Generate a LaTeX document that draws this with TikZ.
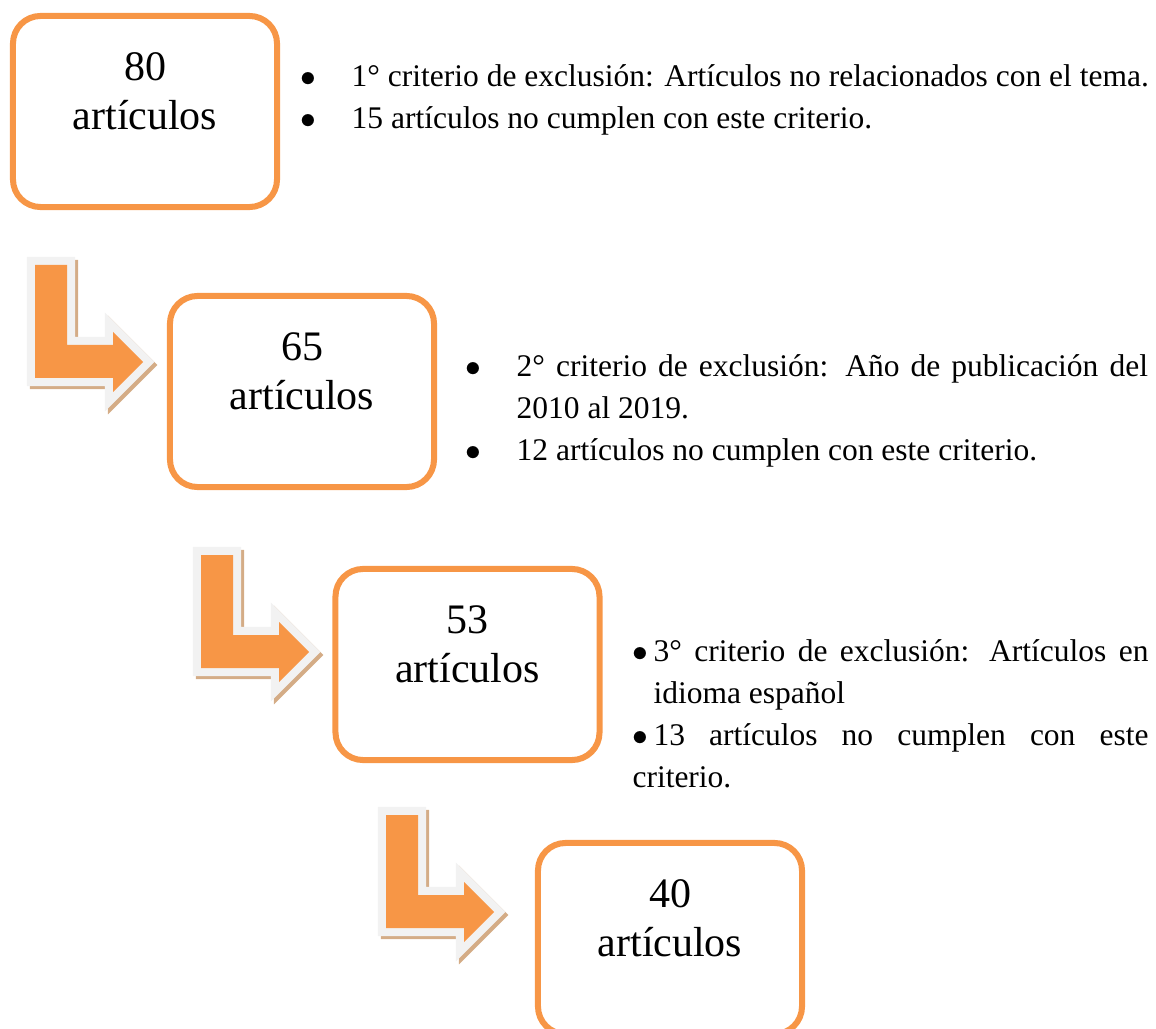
\documentclass[tikz,border=0pt]{standalone}
\usepackage{fontspec}
\setmainfont{Liberation Serif}
\usetikzlibrary{calc}
\definecolor{boxorange}{RGB}{247,150,70}
\definecolor{arrowrim}{RGB}{242,242,242}
\definecolor{arrowshade}{RGB}{212,172,134}
\tolerance=9999
\hyphenpenalty=10000
\tikzset{
    my-box/.style={
        draw=boxorange, line width=2.3pt, rounded corners=10.5pt,
        minimum width=100.6pt, minimum height=72.8pt, inner sep=0pt
    },
    my-count/.style={
        anchor=base, align=center, inner sep=0pt,
        font=\fontsize{16}{19}\selectfont
    },
    my-list/.style={
        anchor=base west, inner sep=0pt, align=justify,
        font=\fontsize{12}{16}\selectfont
    },
    my-rim/.style={
        draw=arrowrim, line width=6.1pt, line join=miter
    },
    my-shade/.style={
        fill=arrowshade, draw=arrowshade, line width=6.1pt, line join=miter
    },
}
\newcommand{\bulitem}[2]{\par\noindent\hangindent=#1\hangafter=1\makebox[#1][l]{$\bullet$}#2}
\newcommand{\bentarrow}[1]{%
    \filldraw[my-shade] ($(#1)+(3,3)$) -- ++(32,0) -- ++(0,80) -- ++(46,0) -- ++(0,-13) -- ++(30,30) -- ++(-30,30) -- ++(0,-14) -- ++(-78,0) -- cycle;
    \draw[my-rim] (#1) -- ++(32,0) -- ++(0,80) -- ++(46,0) -- ++(0,-13) -- ++(30,30) -- ++(-30,30) -- ++(0,-14) -- ++(-78,0) -- cycle;
    \fill[boxorange] (#1) -- ++(32,0) -- ++(0,80) -- ++(46,0) -- ++(0,-13) -- ++(30,30) -- ++(-30,30) -- ++(0,-14) -- ++(-78,0) -- cycle;
}

\begin{document}
\begin{tikzpicture}[x=0.381pt, y=-0.381pt]

        \useasboundingbox (0,0) rectangle (1156,1029);

        % BENT ARROWS
        \coordinate (ARROW1) at (35,265);
        \coordinate (ARROW2) at (201,555);
        \coordinate (ARROW3) at (386,815);
        \bentarrow{ARROW1}
        \bentarrow{ARROW2}
        \bentarrow{ARROW3}

        % BOXES
        \node[my-box] (BOX1) at (145,111.5) {};
        \node[my-box] (BOX2) at (302,391.5) {};
        \node[my-box] (BOX3) at (467.5,664.5) {};
        \node[my-box] (BOX4) at (670,938.5) {};

        % COUNTS
        \node[my-count] (COUNT1) at ($(BOX1.north)+(0,117)$) {80\\artículos};
        \node[my-count] (COUNT2) at ($(BOX2.north)+(0,117)$) {65\\artículos};
        \node[my-count] (COUNT3) at ($(BOX3.north)+(0,117)$) {53\\artículos};
        \node[my-count] (COUNT4) at ($(BOX4.north)+(0,117)$) {40\\artículos};

        % CRITERIA
        \node[my-list, text width=325pt] (CRIT1) at (300,45)
            {\bulitem{19.5pt}{1° criterio de exclusión: Artículos no relacionados con el tema.}%
             \bulitem{19.5pt}{15 artículos no cumplen con este criterio.}};
        \node[my-list, text width=260pt] (CRIT2) at (465,335)
            {\bulitem{19.5pt}{2° criterio de exclusión: Año de publicación del 2010 al 2019.}%
             \bulitem{19.5pt}{12 artículos no cumplen con este criterio.}};
        \node[my-list, text width=196.6pt] (CRIT3) at (632,620)
            {\bulitem{8pt}{3° criterio de exclusión: Artículos en idioma español}%
             \bulitem{8pt}{13 artículos no cumplen con este criterio.}};

\end{tikzpicture}
\end{document}
